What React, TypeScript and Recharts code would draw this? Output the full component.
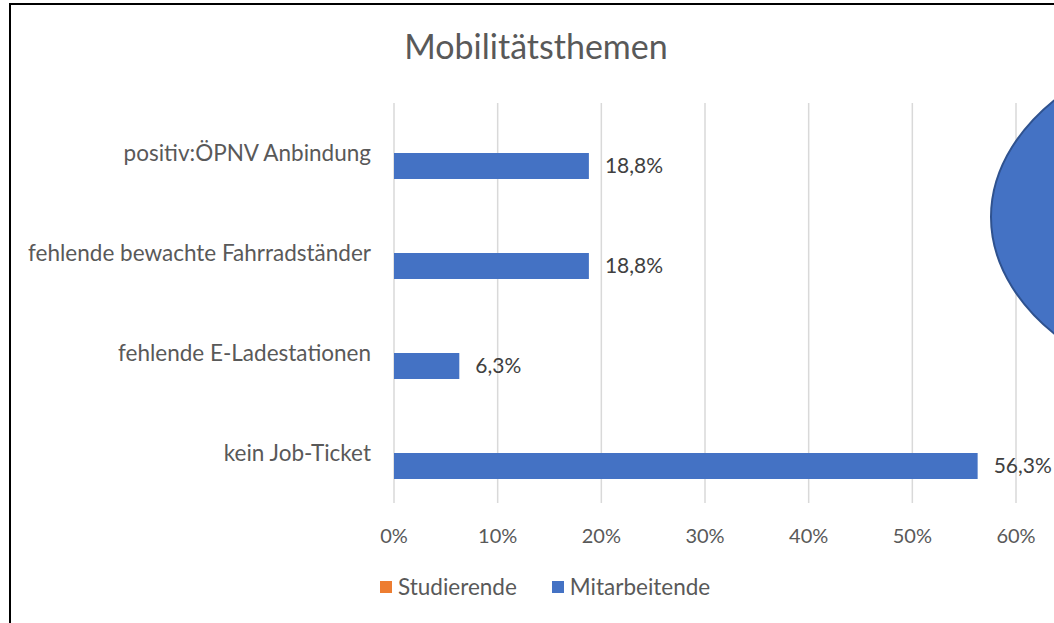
import { Bar, BarChart, CartesianGrid, LabelList, XAxis, YAxis } from "recharts"

const categories = [
  "positiv:ÖPNV Anbindung",
  "fehlende bewachte Fahrradständer",
  "fehlende E-Ladestationen",
  "kein Job-Ticket",
]
const studierende = [null, null, null, null]
const mitarbeitende = [18.8, 18.8, 6.3, 56.3]
const xTicks = [0, 10, 20, 30, 40, 50, 60]

const series = [
  { key: "studierende", name: "Studierende", color: "#ED7D31" },
  { key: "mitarbeitende", name: "Mitarbeitende", color: "#4472C4" },
]

const data = categories.map((name, i) => ({
  name,
  studierende: studierende[i],
  mitarbeitende: mitarbeitende[i],
}))

const font = "Lato, 'Open Sans', sans-serif"
const textColor = "#595959"

const pct = (v: number) => `${v}%`
const labelFmt = (v: any) => (v == null ? "" : `${Number(v).toFixed(1).replace(".", ",")}%`)

export default function App() {
  return (
    <div style={{ position: "absolute", left: 0, top: 0, width: 1054, height: 623, overflow: "hidden", background: "#fff", fontFamily: font }}>
      <BarChart
        width={1054}
        height={623}
        data={data}
        layout="vertical"
        margin={{ top: 103, right: 38, bottom: 90, left: 0 }}
        barGap={0}
        barSize={26}
        style={{ fontFamily: font }}
      >
        <CartesianGrid horizontal={false} stroke="#D9D9D9" strokeWidth={1.5} />
        <XAxis
          type="number"
          domain={[0, 60]}
          ticks={xTicks}
          tickFormatter={pct}
          axisLine={false}
          tickLine={false}
          tickMargin={20}
          tick={{ fill: textColor, fontSize: 20 }}
          height={30}
        />
        <YAxis
          type="category"
          dataKey="name"
          width={394}
          axisLine={false}
          tickLine={false}
          tickMargin={17}
          tick={{ fill: textColor, fontSize: 22.5 }}
        />
        {series.map((s) => (
          <Bar key={s.key} dataKey={s.key} name={s.name} fill={s.color} isAnimationActive={false}>
            {s.key === "mitarbeitende" && (
              <LabelList dataKey={s.key} position="right" offset={16} formatter={labelFmt} fill="#404040" fontSize={21} />
            )}
          </Bar>
        ))}
      </BarChart>

      <svg width={1054} height={623} style={{ position: "absolute", left: 0, top: 0, pointerEvents: "none" }}>
        <rect x={10} y={4} width={1100} height={700} fill="none" stroke="#000" strokeWidth={2} />
        <text x={536} y={59} textAnchor="middle" fill={textColor} fontSize={34} fontFamily={font}>
          Mobilitätsthemen
        </text>
        <ellipse cx={1291} cy={217} rx={300} ry={190} fill="#4472C4" stroke="#2F528F" strokeWidth={2} />
      </svg>

      <div style={{ position: "absolute", left: 380, top: 573, display: "flex", gap: 35, alignItems: "center" }}>
        {series.map((s) => (
          <div key={s.key} style={{ display: "flex", alignItems: "center", gap: 6 }}>
            <span style={{ display: "inline-block", width: 12, height: 12, background: s.color }} />
            <span style={{ color: textColor, fontSize: 22.5, fontFamily: font }}>{s.name}</span>
          </div>
        ))}
      </div>
    </div>
  )
}
